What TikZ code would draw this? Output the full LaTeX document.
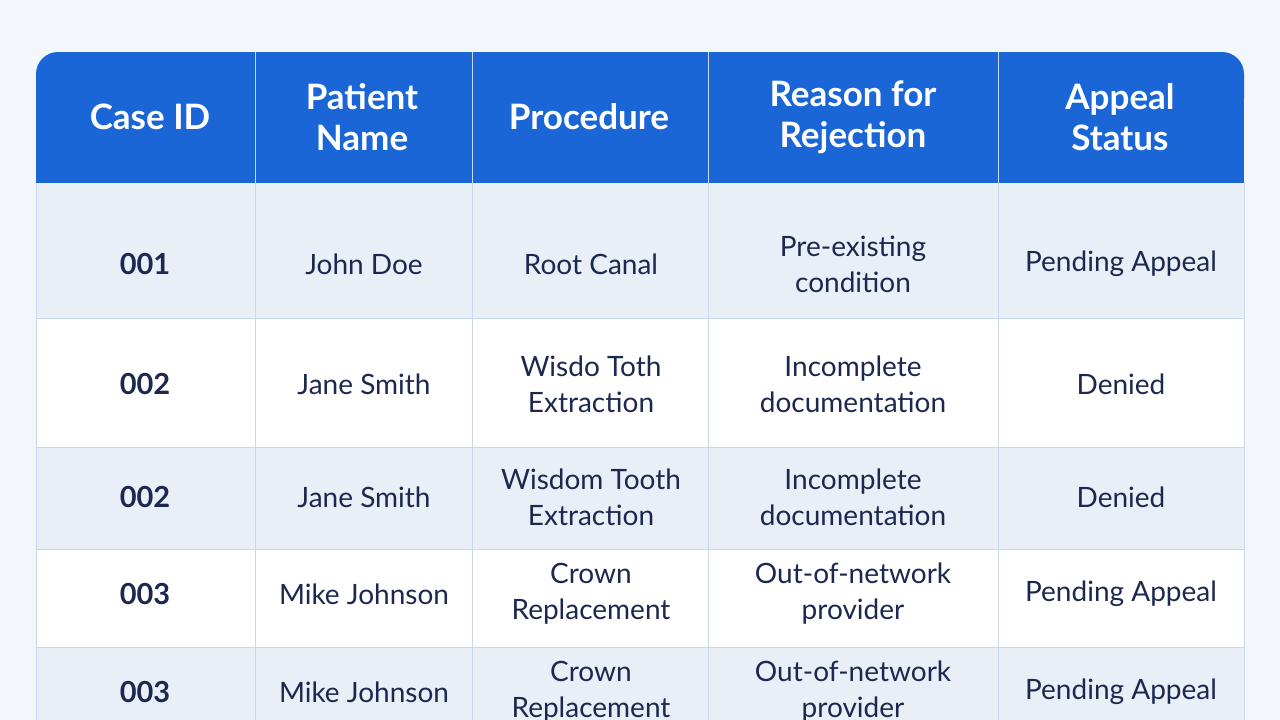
\documentclass[tikz,border=0pt]{standalone}
\usepackage{fontspec}
\setmainfont{Lato}
\usetikzlibrary{positioning,calc}
\definecolor{headblue}{HTML}{1A66D6}
\definecolor{rowtint}{HTML}{E9EFF7}
\definecolor{inkblue}{HTML}{1C2850}
\definecolor{gridline}{HTML}{C9D8EC}
\definecolor{pagebg}{HTML}{F3F6FB}
\begin{document}
\begin{tikzpicture}[
    x=1pt,y=-1pt,
    head_cell/.style={text=white,font=\fontsize{35}{41}\selectfont\bfseries,align=center},
    id_cell/.style={text=inkblue,font=\fontsize{29}{34}\selectfont\bfseries,align=center},
    body_cell/.style={text=inkblue,font=\fontsize{28}{36}\selectfont,align=center}
]
\useasboundingbox (0,0) rectangle (1280,720);
\fill[pagebg] (0,0) rectangle (1280,720);

% Table body and header
\fill[white] (36,183) rectangle (1244,720);
\foreach \top/\bot in {183/318, 447/549, 647/720}
    \fill[rowtint] (36,\top) rectangle (1244,\bot);
\fill[headblue,rounded corners=22pt] (36,52) rectangle (1244,120);
\fill[headblue] (36,100) rectangle (1244,183);

% Grid lines
\foreach \x in {255,472,708,998}
    \draw[gridline,line width=1pt] (\x,52) -- (\x,720);
\foreach \y in {318,447,549,647}
    \draw[gridline,line width=0.8pt] (36,\y) -- (1244,\y);
\draw[gridline,line width=1pt] (36,183) -- (36,720) (1244,183) -- (1244,720);

% Header
\node[head_cell] (hid) at (150,117) {Case ID};
\node[head_cell] (hname) at (362,117) {Patient\\Name};
\node[head_cell] (hproc) at (589,117) {Procedure};
\node[head_cell] (hreason) at (853,117) {Reason for\\Rejection};
\node[head_cell] (hstatus) at (1120,117) {Appeal\\Status};

% Rows
\foreach \r/\y/\cid/\pname/\proc/\reason/\status in {
    1/264/001/John Doe/Root Canal/Pre-existing\\condition/Pending Appeal,
    2/384/002/Jane Smith/Wisdo Toth\\Extraction/Incomplete\\documentation/Denied,
    3/497/002/Jane Smith/Wisdom Tooth\\Extraction/Incomplete\\documentation/Denied,
    4/594/003/Mike Johnson/Crown\\Replacement/Out-of-network\\provider/Pending Appeal,
    5/692/003/Mike Johnson/Crown\\Replacement/Out-of-network\\provider/Pending Appeal}
{
    \node[id_cell] (id\r) at (145,\y) {\cid};
    \node[body_cell] (name\r) at (364,\y) {\pname};
    \node[body_cell] (proc\r) at (591,\y) {\proc};
    \node[body_cell] (reason\r) at (853,\y) {\reason};
    \node[body_cell] (status\r) at (1121,\y) {\status};
}
\end{tikzpicture}
\end{document}
